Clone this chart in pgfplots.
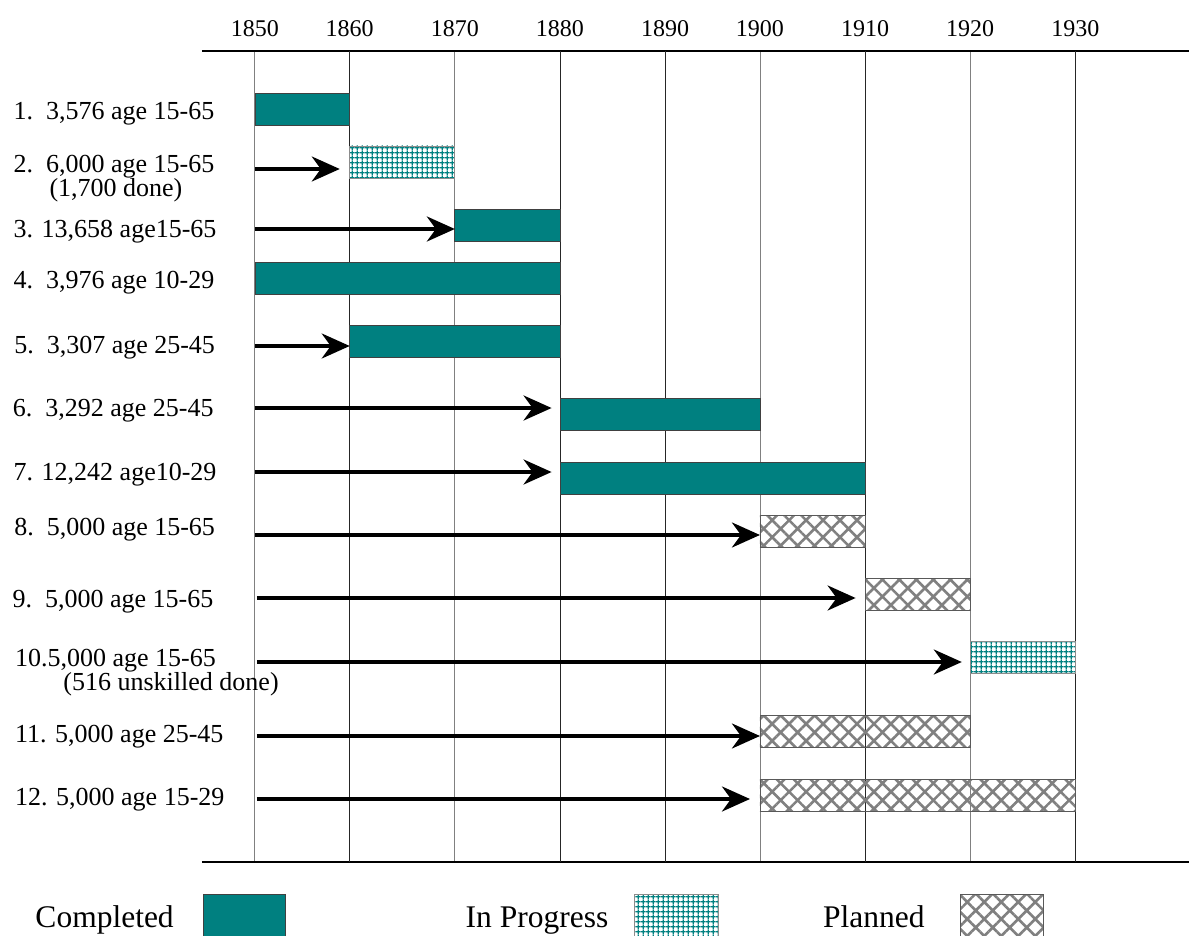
\documentclass[border=0pt]{standalone}
\usepackage{fontspec}
\setmainfont{Liberation Serif}
\usepackage{pgfplots}
\pgfplotsset{compat=1.18}
\usetikzlibrary{arrows.meta,patterns.meta}

\definecolor{sea}{RGB}{0,128,128}
\definecolor{hatchgray}{RGB}{128,128,128}

\tikzset{
  done/.style    = {fill=sea, draw=black!75, line width=0.8bp},
  going/.style   = {pattern={Hatch[distance=5.2bp,line width=1.5bp]},
                    pattern color=sea, draw=black!45, line width=0.8bp},
  planned/.style = {pattern={Hatch[angle=45,distance=12bp,line width=2.6bp]},
                    pattern color=hatchgray, draw=black!65, line width=0.8bp},
  lead/.style    = {black, line width=3.5bp,
                    -{Stealth[length=28bp,width=25bp,inset=9bp]}},
  lab/.style     = {anchor=base west, inner sep=0pt,
                    font=\fontsize{26bp}{30bp}\selectfont},
  leg/.style     = {anchor=base west, inner sep=0pt,
                    font=\fontsize{31.5bp}{36bp}\selectfont},
}

%% one bar of the chart: style, from, to, top row px, bottom row px
\newcommand{\gbar}[5]{\addplot[#1] coordinates {(#2,#4) (#3,#4) (#3,#5) (#2,#5)} -- cycle;}

\begin{document}
\begin{tikzpicture}
  \begin{axis}[
    name = ax,
    at = {(0,0)}, anchor = south west,
    scale only axis,
    width = 987bp,
    height = 811bp,
    %% the decades are not evenly spaced in the original drawing
    x coord trafo/.code = {\pgfmathparse{255 + 9.5*min(#1-1850,10)
        + 10.533*max(min(#1-1860,30),0) + 9.5*max(min(#1-1890,10),0)
        + 10.533*max(#1-1900,0)}},
    xmin = 1844.42, xmax = 1940.81,
    ymin = 51, ymax = 862,
    y dir = reverse,
    clip = false,
    separate axis lines,
    axis x line = box,
    axis y line = none,
    axis line style = {line width=1.2bp},
    xtick = {1850,1860,1870,1880,1890,1900,1910,1920,1930},
    xticklabels = {1850,1860,1870,1880,1890,1900,1910,1920,1930},
    xticklabel pos = upper,
    major tick length = 0pt,
    xticklabel style = {anchor=base, yshift=14bp,
                        font=\fontsize{24bp}{28bp}\selectfont},
    xmajorgrids,
    grid style = {black!50, line width=0.9bp},
    extra x ticks = {1860,1880,1890,1910,1930},
    extra x tick labels = {},
    extra x tick style = {grid style={black!85, line width=0.9bp}},
    ytick = \empty,
    ]

    %% bars
    \gbar{done}   {1850}{1860}{93} {125}
    \gbar{going}  {1860}{1870}{146}{178}
    \gbar{done}   {1870}{1880}{209}{241}
    \gbar{done}   {1850}{1880}{262}{294}
    \gbar{done}   {1860}{1880}{325}{357}
    \gbar{done}   {1880}{1900}{398}{430}
    \gbar{done}   {1880}{1910}{462}{494}
    \gbar{planned}{1900}{1910}{515}{547}
    \gbar{planned}{1910}{1920}{578}{610}
    \gbar{going}  {1920}{1930}{641}{673}
    \gbar{planned}{1900}{1920}{715}{747}
    \gbar{planned}{1900}{1930}{779}{811}

    %% waiting arrows
    \addplot[lead] coordinates {(1850,169) (1858.95,169)};
    \addplot[lead] coordinates {(1850,229) (1870,229)};
    \addplot[lead] coordinates {(1850,346) (1860,346)};
    \addplot[lead] coordinates {(1850,408) (1879.2,408)};
    \addplot[lead] coordinates {(1850,472) (1879.2,472)};
    \addplot[lead] coordinates {(1850,535) (1900,535)};
    \addplot[lead] coordinates {(1850.2,598) (1909.1,598)};
    \addplot[lead] coordinates {(1850.2,662) (1919.2,662)};
    \addplot[lead] coordinates {(1850.2,736) (1900,736)};
    \addplot[lead] coordinates {(1850.2,799) (1898.95,799)};

    %% row labels
    \node[lab] at (axis cs:1824.53,120) {1.\ \ 3,576 age 15-65};
    \node[lab] at (axis cs:1824.53,173) {2.\ \ 6,000 age 15-65};
    \node[lab] at (axis cs:1828.32,196.5) {(1,700 done)};
    \node[lab] at (axis cs:1824.53,237) {3. 13,658 age15-65};
    \node[lab] at (axis cs:1824.53,288) {4.\ \ 3,976 age 10-29};
    \node[lab] at (axis cs:1824.6,353) {5.\ \ 3,307 age 25-45};
    \node[lab] at (axis cs:1824.45,416) {6.\ \ 3,292 age 25-45};
    \node[lab] at (axis cs:1824.53,480) {7. 12,242 age10-29};
    \node[lab] at (axis cs:1824.6,535) {8.\ \ 5,000 age 15-65};
    \node[lab] at (axis cs:1824.42,607) {9.\ \ 5,000 age 15-65};
    \node[lab] at (axis cs:1824.68,666) {10.5,000 age 15-65};
    \node[lab] at (axis cs:1829.79,690) {(516 unskilled done)};
    \node[lab] at (axis cs:1824.68,742) {11. 5,000 age 25-45};
    \node[lab] at (axis cs:1824.68,805) {12. 5,000 age 15-29};

    %% legend
    \node[leg] at (axis cs:1826.84,927) {Completed};
    \draw[done] (axis cs:1844.53,894) rectangle (axis cs:1853.26,960);
    \node[leg] at (axis cs:1871.01,927) {In Progress};
    \draw[going] (axis cs:1887.06,894) rectangle (axis cs:1895.58,960);
    \node[leg] at (axis cs:1905.98,927) {Planned};
    \draw[planned] (axis cs:1919.08,894) rectangle (axis cs:1926.96,960);
  \end{axis}
  \pgfresetboundingbox
  \path[use as bounding box] ([shift={(-202bp,-74bp)}]ax.south west)
    rectangle ([shift={(0bp,51bp)}]ax.north east);
\end{tikzpicture}
\end{document}
